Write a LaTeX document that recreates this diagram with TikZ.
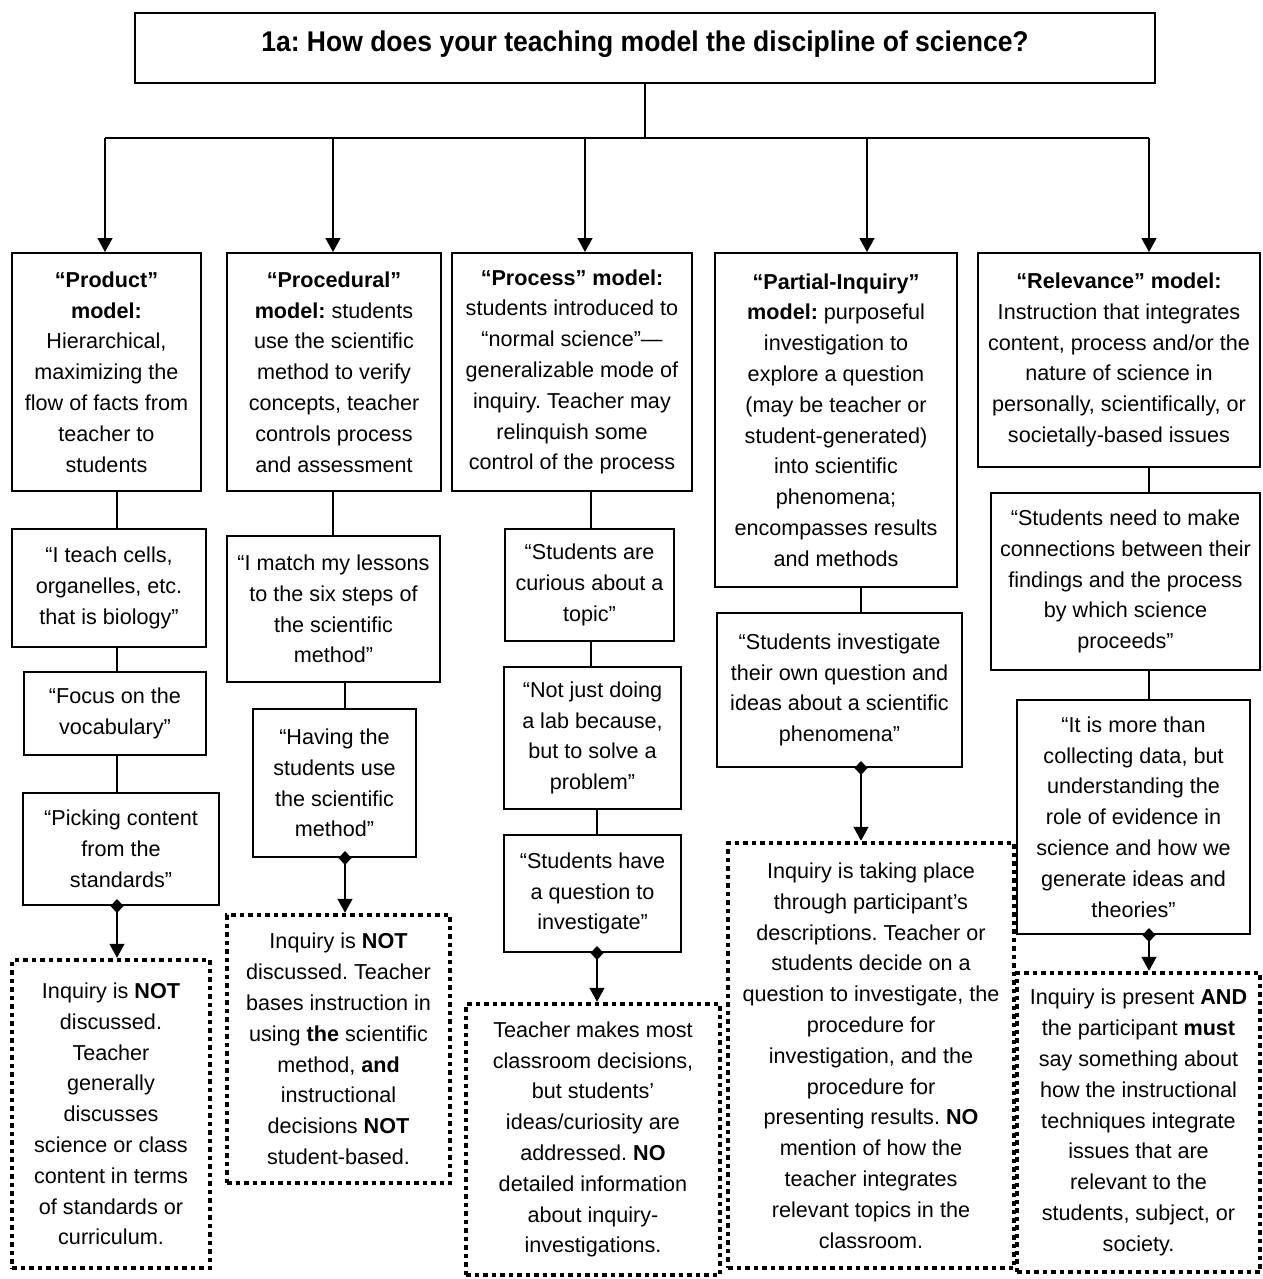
\documentclass[tikz,border=0pt]{standalone}
\usepackage{fontspec}
\setmainfont{Liberation Sans}
\usepackage{graphicx}
\usetikzlibrary{arrows.meta}
\frenchspacing
\tikzset{
  txt/.style={font=\fontsize{21.6}{30.8}\selectfont, align=center, inner sep=0pt},
  box/.style={txt, draw, line width=2pt},
  dotbox/.style={txt, draw, line width=4.5pt, dash pattern=on 4.5pt off 4pt},
  conn/.style={line width=1.5pt},
  arr/.style={conn, -{Triangle[length=14pt,width=15pt]}},
  darr/.style={conn, {Diamond[length=14pt,width=13pt]}-{Triangle[length=14pt,width=15pt]}, shorten <=-7pt},
}
\begin{document}
\begin{tikzpicture}[x=1pt,y=-1pt]
\useasboundingbox (0,0) rectangle (1262,1279);
% title
\node[draw, line width=2pt, minimum width=1020pt, minimum height=70pt, inner sep=0pt] (title) at (645,48) {};
\node[font=\fontsize{28.5}{34}\selectfont\bfseries, anchor=base, inner sep=0pt] (ttext) at (645,52) {\scalebox{0.93}[1]{1a: How does your teaching model the discipline of science?}};
% hub
\coordinate (hub) at (645,138);
\coordinate (a1) at (105,138);
\coordinate (a2) at (333,138);
\coordinate (a3) at (585,138);
\coordinate (a4) at (867,138);
\coordinate (a5) at (1149,138);
% model boxes
\node[box, minimum width=189pt, minimum height=238pt] (p1) at (106.5,372) {\textbf{“Product”}\\\textbf{model:}\\Hierarchical,\\maximizing the\\flow of facts from\\teacher to\\students};
\node[box, minimum width=214pt, minimum height=238pt] (p2) at (334,372) {\textbf{“Procedural”}\\\textbf{model:} students\\use the scientific\\method to verify\\concepts, teacher\\controls process\\and assessment};
\node[box, minimum width=240pt, minimum height=238pt] (p3) at (572,372) {\textbf{“Process” model:}\\students introduced to\\“normal science”—\\generalizable mode of\\inquiry. Teacher may\\relinquish some\\control of the process};
\node[box, minimum width=242pt, minimum height=334pt] (p4) at (836,420) {\textbf{“Partial-Inquiry”}\\\textbf{model:} purposeful\\investigation to\\explore a question\\(may be teacher or\\student-generated)\\into scientific\\phenomena;\\encompasses results\\and methods};
\node[box, minimum width=282pt, minimum height=214pt] (p5) at (1119,360) {\textbf{“Relevance” model:}\\Instruction that integrates\\content, process and/or the\\nature of science in\\personally, scientifically, or\\societally-based issues};
% column 1
\node[box, minimum width=194pt, minimum height=118pt] (b1a) at (109,588) {“I teach cells,\\organelles, etc.\\that is biology”};
\node[box, minimum width=182pt, minimum height=83pt] (b1b) at (115,713.5) {“Focus on the\\vocabulary”};
\node[box, minimum width=196pt, minimum height=112pt] (b1c) at (121,849) {“Picking content\\from the\\standards”};
\node[dotbox, minimum width=198pt, minimum height=308pt] (d1) at (111,1114) {Inquiry is \textbf{NOT}\\discussed.\\Teacher\\generally\\discusses\\science or class\\content in terms\\of standards or\\curriculum.};
% column 2
\node[box, minimum width=213pt, minimum height=146pt] (b2a) at (333.5,609) {“I match my lessons\\to the six steps of\\the scientific\\method”};
\node[box, minimum width=163pt, minimum height=148pt] (b2b) at (334.5,783) {“Having the\\students use\\the scientific\\method”};
\node[dotbox, minimum width=223pt, minimum height=268pt] (d2) at (338.5,1049) {Inquiry is \textbf{NOT}\\discussed. Teacher\\bases instruction in\\using \textbf{the} scientific\\method, \textbf{and}\\instructional\\decisions \textbf{NOT}\\student-based.};
% column 3
\node[box, minimum width=169pt, minimum height=112pt] (b3a) at (589.5,585) {“Students are\\curious about a\\topic”};
\node[box, minimum width=177pt, minimum height=142pt] (b3b) at (592.5,738) {“Not just doing\\a lab because,\\but to solve a\\problem”};
\node[box, minimum width=177pt, minimum height=117pt] (b3c) at (592.5,893.5) {“Students have\\a question to\\investigate”};
\node[dotbox, minimum width=254pt, minimum height=271pt] (d3) at (593,1139.5) {Teacher makes most\\classroom decisions,\\but students’\\ideas/curiosity are\\addressed. \textbf{NO}\\detailed information\\about inquiry-\\investigations.};
% column 4
\node[box, minimum width=245pt, minimum height=154pt] (b4a) at (839.5,690) {“Students investigate\\their own question and\\ideas about a scientific\\phenomena”};
\node[dotbox, minimum width=286pt, minimum height=425pt] (d4) at (871,1055.5) {Inquiry is taking place\\through participant’s\\descriptions. Teacher or\\students decide on a\\question to investigate, the\\procedure for\\investigation, and the\\procedure for\\presenting results. \textbf{NO}\\mention of how the\\teacher integrates\\relevant topics in the\\classroom.};
% column 5
\node[box, minimum width=269pt, minimum height=177pt] (b5a) at (1125.5,581.5) {“Students need to make\\connections between their\\findings and the process\\by which science\\proceeds”};
\node[box, minimum width=233pt, minimum height=234pt] (b5b) at (1133.5,817) {“It is more than\\collecting data, but\\understanding the\\role of evidence in\\science and how we\\generate ideas and\\theories”};
\node[dotbox, minimum width=243pt, minimum height=299pt] (d5) at (1138.5,1122.5) {Inquiry is present \textbf{AND}\\the participant \textbf{must}\\say something about\\how the instructional\\techniques integrate\\issues that are\\relevant to the\\students, subject, or\\society.};
% connector x positions
\coordinate (x1) at (117,0);
\coordinate (x2a) at (333,0);
\coordinate (x2b) at (345,0);
\coordinate (x3a) at (591,0);
\coordinate (x3b) at (597,0);
\coordinate (x4) at (861,0);
\coordinate (x5) at (1149,0);
% top connectors
\draw[conn] (title.south) -- (hub);
\draw[conn] (a1) -- (a5);
\draw[arr] (a1) -- (p1.north -| a1);
\draw[arr] (a2) -- (p2.north -| a2);
\draw[arr] (a3) -- (p3.north -| a3);
\draw[arr] (a4) -- (p4.north -| a4);
\draw[arr] (a5) -- (p5.north -| a5);
% column connectors
\draw[conn] (p1.south -| x1) -- (b1a.north -| x1);
\draw[conn] (b1a.south -| x1) -- (b1b.north -| x1);
\draw[conn] (b1b.south -| x1) -- (b1c.north -| x1);
\draw[darr] (b1c.south -| x1) -- (d1.north -| x1);
\draw[conn] (p2.south -| x2a) -- (b2a.north -| x2a);
\draw[conn] (b2a.south -| x2b) -- (b2b.north -| x2b);
\draw[darr] (b2b.south -| x2b) -- (d2.north -| x2b);
\draw[conn] (p3.south -| x3a) -- (b3a.north -| x3a);
\draw[conn] (b3a.south -| x3a) -- (b3b.north -| x3a);
\draw[conn] (b3b.south -| x3b) -- (b3c.north -| x3b);
\draw[darr] (b3c.south -| x3b) -- (d3.north -| x3b);
\draw[conn] (p4.south -| x4) -- (b4a.north -| x4);
\draw[darr] (b4a.south -| x4) -- (d4.north -| x4);
\draw[conn] (p5.south -| x5) -- (b5a.north -| x5);
\draw[conn] (b5a.south -| x5) -- (b5b.north -| x5);
\draw[darr] (b5b.south -| x5) -- (d5.north -| x5);
\end{tikzpicture}
\end{document}
